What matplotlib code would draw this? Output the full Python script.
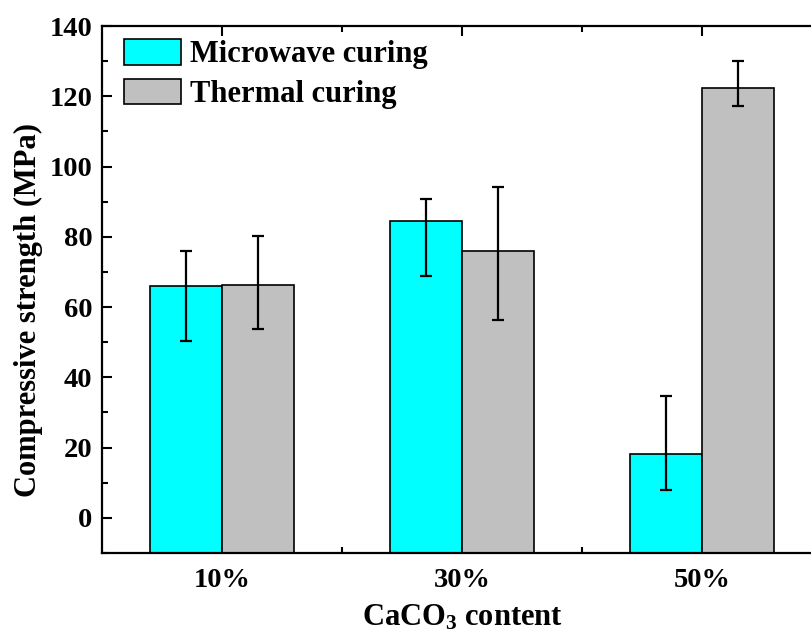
import numpy as np
import matplotlib
matplotlib.use("Agg")
import matplotlib.pyplot as plt
from matplotlib.ticker import MultipleLocator, FixedLocator

# ── data ──────────────────────────────────────────────────────────────────────
groups = ["10%", "30%", "50%"]

microwave      = np.array([66.1, 84.4, 18.1])
microwave_low  = np.array([50.2, 68.8, 7.8])
microwave_high = np.array([76.0, 90.7, 34.8])

thermal      = np.array([66.2, 76.0, 122.3])
thermal_low  = np.array([53.8, 56.2, 117.2])
thermal_high = np.array([80.3, 94.3, 130.0])

YMIN, YMAX = -10, 140
# ──────────────────────────────────────────────────────────────────────────────

plt.rcParams["font.family"] = "Liberation Serif"
plt.rcParams["font.weight"] = "bold"
plt.rcParams["mathtext.fontset"] = "custom"
plt.rcParams["mathtext.rm"] = "Liberation Serif:bold"
plt.rcParams["mathtext.it"] = "Liberation Serif:bold"
plt.rcParams["mathtext.bf"] = "Liberation Serif:bold"

fig = plt.figure(figsize=(8.11, 6.32), dpi=100)
ax = fig.add_axes([102 / 811, 79 / 632, 720 / 811, 527 / 632])

x = np.arange(1, len(groups) + 1)
w = 0.3

err_kw = dict(ecolor="black", elinewidth=1.6, capsize=4, capthick=1.6)

ax.bar(x - w / 2, microwave - YMIN, bottom=YMIN, width=w, color="#00FFFF",
       edgecolor="black", linewidth=1.2, label="Microwave curing", zorder=2)
ax.bar(x + w / 2, thermal - YMIN, bottom=YMIN, width=w, color="#C0C0C0",
       edgecolor="black", linewidth=1.2, label="Thermal curing", zorder=2)

ax.errorbar(x - w / 2, microwave,
            yerr=[microwave - microwave_low, microwave_high - microwave],
            fmt="none", zorder=3, **err_kw)
ax.errorbar(x + w / 2, thermal,
            yerr=[thermal - thermal_low, thermal_high - thermal],
            fmt="none", zorder=3, **err_kw)

ax.set_xlim(0.5, 3.5)
ax.set_ylim(YMIN, YMAX)

ax.set_xticks(x)
ax.set_xticklabels(groups)
ax.xaxis.set_minor_locator(FixedLocator([1.5, 2.5]))
ax.yaxis.set_major_locator(FixedLocator(np.arange(0, 141, 20)))
ax.yaxis.set_minor_locator(MultipleLocator(10))

ax.tick_params(which="both", direction="in", top=True, right=False,
               width=1.5, labelsize=20.5)
ax.tick_params(which="major", length=7)
ax.tick_params(which="minor", length=4)
ax.tick_params(axis="x", pad=11)
ax.tick_params(axis="y", pad=7)

for side in ("left", "bottom", "top"):
    ax.spines[side].set_linewidth(1.6)
ax.spines["right"].set_visible(False)

ax.set_ylabel("Compressive strength (MPa)", fontsize=22, fontweight="bold")
ax.yaxis.set_label_coords(-0.082, 0.461)
ax.set_xlabel("CaCO$_3$ content", fontsize=22, fontweight="bold", labelpad=7)

ax.legend(loc="upper left", bbox_to_anchor=(0.031, 0.975), frameon=False,
          handlelength=1.85, handleheight=0.9,
          handletextpad=0.3, labelspacing=0.3, borderpad=0, borderaxespad=0,
          prop={"weight": "bold", "size": 22})

fig.savefig("out.png", dpi=100)
plt.close(fig)
